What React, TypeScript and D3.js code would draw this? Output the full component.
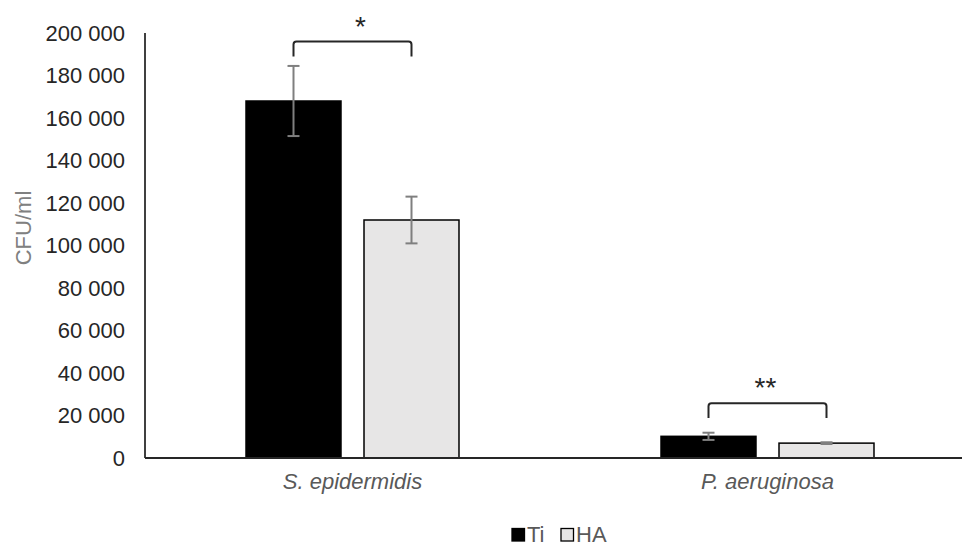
import React from 'react';
import * as d3 from 'd3';

const categories = ['S. epidermidis', 'P. aeruginosa'];
const seriesNames = ['Ti', 'HA'];
const tiValues = [168000, 10200];
const haValues = [112000, 7000];
const tiErrors = [16500, 1700];
const haErrors = [11000, 400];
const yTicks = [0, 20000, 40000, 60000, 80000, 100000, 120000, 140000, 160000, 180000, 200000];
const sigLabels = ['*', '**'];
const bracketTop = [196000, 25800];
const bracketFoot = [189000, 18800];

const width = 962;
const height = 545;
const font = 'Liberation Sans, Arial, sans-serif';

// tick labels use a space as thousands separator, like "200 000"
const fmt = (v: number) => d3.format(',')(v).replace(/,/g, ' ');

function App() {
  const x0 = d3.scaleBand().domain(categories).range([145, 975]);
  const x1 = d3.scaleBand().domain(seriesNames).range([0, x0.bandwidth()])
    .paddingInner(0.195).paddingOuter(0.856);
  const y = d3.scaleLinear().domain([0, 200000]).range([458, 33]);

  const values = [tiValues, haValues];
  const errors = [tiErrors, haErrors];
  const fills = ['#000000', '#e7e6e6'];
  const bw = x1.bandwidth();

  return (
    <svg width={width} height={height} style={{ position: 'absolute', left: 0, top: 0 }} fontFamily={font}>
      <rect width={width} height={height} fill="#fff" />

      {/* y tick labels */}
      {yTicks.map(t => (
        <text key={t} x={125} y={y(t)} dy="0.35em" textAnchor="end" fontSize={22} fill="#262626">{fmt(t)}</text>
      ))}
      <text transform={`translate(31,228) rotate(-90)`} textAnchor="middle" fontSize={22} fill="#808080">CFU/ml</text>

      {/* bars */}
      {seriesNames.map((s, si) => categories.map((c, ci) => {
        const v = values[si][ci];
        const bx = x0(c)! + x1(s)!;
        return (
          <rect key={s + c} x={bx} y={y(v)} width={bw} height={y(0) - y(v)}
            fill={fills[si]} stroke="#000" strokeWidth={1.5} />
        );
      }))}

      {/* error bars */}
      {seriesNames.map((s, si) => categories.map((c, ci) => {
        const v = values[si][ci];
        const e = errors[si][ci];
        const cx = x0(c)! + x1(s)! + bw / 2;
        return (
          <g key={'e' + s + c} stroke="#7f7f7f" strokeWidth={2}>
            <line x1={cx} x2={cx} y1={y(v + e)} y2={y(v - e)} />
            <line x1={cx - 6} x2={cx + 6} y1={y(v + e)} y2={y(v + e)} />
            <line x1={cx - 6} x2={cx + 6} y1={y(v - e)} y2={y(v - e)} />
          </g>
        );
      }))}

      {/* axes */}
      <line x1={145} x2={145} y1={y(200000)} y2={y(0)} stroke="#000" strokeWidth={1.5} />
      <line x1={145} x2={width} y1={y(0)} y2={y(0)} stroke="#262626" strokeWidth={2} />

      {/* significance brackets */}
      {categories.map((c, ci) => {
        const xa = x0(c)! + x1('Ti')! + bw / 2;
        const xb = x0(c)! + x1('HA')! + bw / 2;
        const yt = y(bracketTop[ci]);
        const yf = y(bracketFoot[ci]);
        const r = 3;
        const d = `M${xa},${yf} L${xa},${yt + r} Q${xa},${yt} ${xa + r},${yt} L${xb - r},${yt} Q${xb},${yt} ${xb},${yt + r} L${xb},${yf}`;
        const dx = ci === 0 ? 8 : -2;
        return (
          <g key={'b' + c}>
            <path d={d} fill="none" stroke="#262626" strokeWidth={2} />
            <text x={(xa + xb) / 2 + dx} y={yt - 6} textAnchor="middle" fontSize={28} fill="#262626">{sigLabels[ci]}</text>
          </g>
        );
      })}

      {/* category labels */}
      {categories.map(c => (
        <text key={'l' + c} x={x0(c)! + x0.bandwidth() / 2} y={489} textAnchor="middle"
          fontSize={22} fontStyle="italic" fill="#595959">{c}</text>
      ))}

      {/* legend */}
      {seriesNames.map((s, si) => {
        const lx = 512 + si * 49;
        return (
          <g key={'lg' + s}>
            <rect x={lx} y={528.5} width={12.5} height={12.5} fill={fills[si]} stroke="#000" strokeWidth={1.3} />
            <text x={lx + 15} y={541.5} fontSize={22} fill="#595959">{s}</text>
          </g>
        );
      })}
    </svg>
  );
}

export default App;
